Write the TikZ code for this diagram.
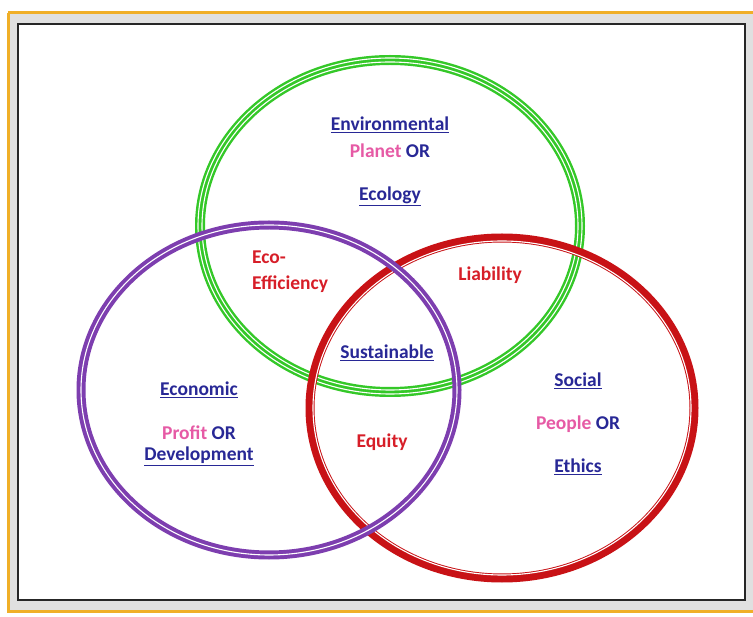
\documentclass[tikz,border=0pt]{standalone}
\usepackage{fontspec}
\setmainfont{Carlito}
\definecolor{ringgreen}{RGB}{52,200,40}
\definecolor{ringpurple}{RGB}{125,62,175}
\definecolor{ringred}{RGB}{200,18,22}
\definecolor{txtblue}{RGB}{40,40,150}
\definecolor{txtpink}{RGB}{230,90,165}
\definecolor{txtred}{RGB}{215,30,40}
\definecolor{frameorange}{RGB}{240,175,40}

\tikzstyle{head} = [font=\fontsize{19.5}{22}\selectfont\bfseries, text=txtblue, inner sep=1pt]
\tikzstyle{sub} = [font=\fontsize{19.5}{22}\selectfont\bfseries, text=txtblue, inner sep=1pt]
\tikzstyle{mix} = [font=\fontsize{19.5}{22}\selectfont\bfseries, text=txtred, inner sep=1pt]
\tikzstyle{ring} = [line width=9pt]
\tikzstyle{gap} = [white, line width=1.1pt]

\begin{document}
\begin{tikzpicture}[x=1pt, y=-1pt]
\useasboundingbox (0,0) rectangle (753,617);
% Frame
	\fill[white] (0,0) rectangle (753,617);
	\fill[black!12] (8,13) rectangle (760,611);
	\draw[frameorange, line width=3pt] (8,13) -- (760,13);
	\draw[frameorange, line width=3pt] (8,13) -- (8,611) -- (760,611);
	\fill[white] (18,24) rectangle (745,600);
	\draw[black!85, line width=1.6pt] (18,24) rectangle (745,600);

% Environmental ring
	\draw[ringgreen, line width=10pt] (390,226) ellipse (190 and 166);
	\draw[gap] (390,226) ellipse (188 and 164);
	\draw[gap] (390,226) ellipse (192 and 168);

% Social ring
	\draw[ringred, ring] (502,408) ellipse (192 and 170);
	\draw[gap] (502,408) ellipse (189 and 167);

% Economic ring
	\draw[ringpurple, ring] (269,390) ellipse (188 and 165);
	\draw[gap] (269,390) ellipse (188 and 165);

% Circle labels
	\node[head] at (390,125) (env) {\underline{Environmental}};
	\node[sub] at (390,151) (planet) {\textcolor{txtpink}{Planet} OR};
	\node[head] at (390,196) (eco) {\underline{Ecology}};

	\node[head] at (199,390) (econ) {\underline{Economic}};
	\node[sub] at (199,433) (profit) {\textcolor{txtpink}{Profit} OR};
	\node[head] at (199,456) (dev) {\underline{Development}};

	\node[head] at (578,381) (soc) {\underline{Social}};
	\node[sub] at (578,424) (people) {\textcolor{txtpink}{People} OR};
	\node[head] at (578,467) (eth) {\underline{Ethics}};

% Overlap labels
	\node[mix] at (269,257) (ecoeff) {Eco-};
	\node[mix] at (290,284) (effic) {Efficiency};
	\node[mix] at (490,275) (liab) {Liability};
	\node[mix] at (382,442) (equity) {Equity};
	\node[head] at (387,353) (sust) {\underline{Sustainable}};

\end{tikzpicture}
\end{document}
